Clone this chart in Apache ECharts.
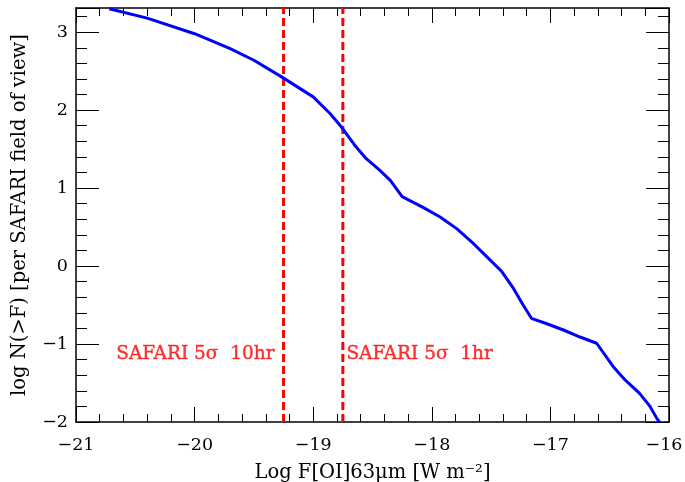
<!DOCTYPE html>
<html><head><meta charset="utf-8">
<script src="https://cdn.jsdelivr.net/npm/echarts@6/dist/echarts.min.js"></script>
<style>html,body{margin:0;padding:0;background:#fff}#c{width:685px;height:482px}</style>
</head><body><div id="c"></div>
<script>
var curveX = [-20.72,-20.40,-20.00,-19.70,-19.50,-19.27,-19.00,-18.86,-18.76,-18.65,-18.555,-18.44,-18.35,-18.25,-18.07,-17.93,-17.79,-17.65,-17.55,-17.41,-17.31,-17.23,-17.16,-17.03,-16.89,-16.75,-16.61,-16.47,-16.37,-16.25,-16.16,-16.10,-16.08];
var curveY = [3.30,3.18,2.98,2.79,2.64,2.43,2.17,1.96,1.78,1.55,1.38,1.23,1.10,0.89,0.75,0.63,0.48,0.29,0.14,-0.07,-0.29,-0.50,-0.67,-0.74,-0.82,-0.91,-0.99,-1.29,-1.46,-1.63,-1.80,-1.96,-2.0];
var limitX = [-19.25, -18.75];
var limitLabels = ['SAFARI 5σ  10hr', 'SAFARI 5σ  1hr'];
var labelX = [-20.66, -18.72];
var labelY = -1.13;
var xMin = -21, xMax = -16, yMin = -2, yMax = 3.31;

var font = 'DejaVu Serif';
var fs = 18.5;
var tfs = 17.5;
var nfs = 19.5;
function fmt(v){ return String(v).replace('-', '\u2212'); }
function fmtX(v){ var s = fmt(v); return v === xMax ? '{r|' + s + '}' : s; }
var curve = curveX.map(function(x,i){ return [x, curveY[i]]; });
var series = [{
  type:'line', data: curve, showSymbol:false, smooth:false,
  lineStyle:{color:'#0000ff', width:3}, z:3
}];
limitX.forEach(function(x){
  series.push({type:'line', data:[[x,yMin],[x,yMax]], showSymbol:false,
    lineStyle:{color:'#ff0000', width:3, type:[8,4]}, z:2});
});
series.push({type:'scatter', symbolSize:0, silent:true,
  data: labelX.map(function(x,i){ return {value:[x,labelY], name:limitLabels[i]}; }),
  label:{show:true, position:'right', distance:0, formatter:function(p){return p.name;},
    color:'#ff0000', fontFamily:font, fontSize:fs, textBorderColor:'#ff0000', textBorderWidth:0.4}});

function tick(len){ return {show:true, inside:true, length:len, lineStyle:{color:'#000', width:1}}; }
function minor(len){ return {show:true, splitNumber:5, length:len, lineStyle:{color:'#000', width:1}}; }
var line = {show:true, onZero:false, lineStyle:{color:'#000', width:1.5}};

var chart = echarts.init(document.getElementById('c'));
chart.setOption({
  animation:false,
  grid:{left:76, right:16, top:8, bottom:60, outerBoundsMode:'none', containLabel:false},
  xAxis:[
    {type:'value', min:xMin, max:xMax, interval:1, position:'bottom', axisLine:line, splitLine:{show:false},
      name:'Log F[OI]63\u03bcm [W m\u207b\u00b2]', nameLocation:'middle', nameGap:41,
      nameTextStyle:{fontFamily:font, fontSize:nfs, color:'#000'},
      axisLabel:{formatter:fmtX, fontFamily:font, fontSize:tfs, color:'#000', margin:14,
        rich:{r:{fontFamily:font, fontSize:tfs, color:'#000', padding:[0,10,0,0]}}},
      axisTick:tick(15), minorTick:minor(8)},
    {type:'value', min:xMin, max:xMax, interval:1, position:'top', axisLine:line, splitLine:{show:false},
      axisLabel:{show:false}, axisTick:tick(15), minorTick:minor(8)}
  ],
  yAxis:[
    {type:'value', min:yMin, max:yMax, interval:1, position:'left', axisLine:line, splitLine:{show:false},
      name:'log N(>F) [per SAFARI field of view]', nameLocation:'middle', nameGap:46,
      nameTextStyle:{fontFamily:font, fontSize:nfs, color:'#000'},
      axisLabel:{formatter:fmt, fontFamily:font, fontSize:tfs, color:'#000', margin:8, showMaxLabel:false},
      axisTick:tick(23), minorTick:minor(11)},
    {type:'value', min:yMin, max:yMax, interval:1, position:'right', axisLine:line, splitLine:{show:false},
      axisLabel:{show:false}, axisTick:tick(23), minorTick:minor(11)}
  ],
  series: series
});
</script></body></html>
